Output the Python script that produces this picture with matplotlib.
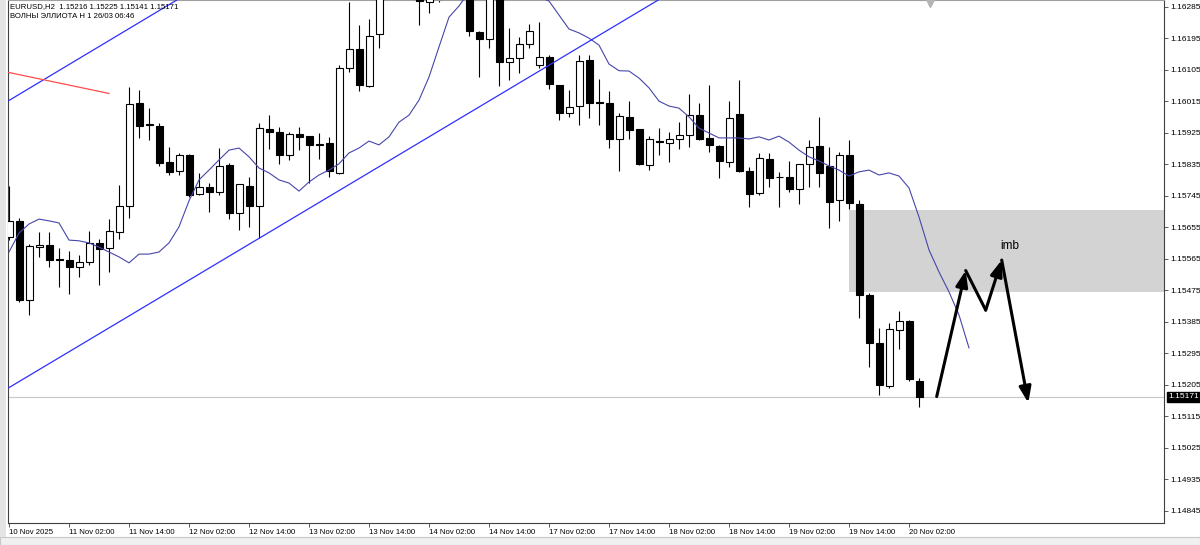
import matplotlib
matplotlib.use("Agg")
import matplotlib.pyplot as plt
from matplotlib.patches import Rectangle
import numpy as np

# EURUSD H2 candles, first bar = 10 Nov 14:00
opens = [1.15628, 1.15674, 1.15448, 1.15600, 1.15604, 1.15564, 1.15561, 1.15541, 1.15556, 1.15610,
         1.15596, 1.15643, 1.15716, 1.16010, 1.15950, 1.15946, 1.15841, 1.15815, 1.15862, 1.15750,
         1.15772, 1.15757, 1.15834, 1.15696, 1.15774, 1.15716, 1.15936, 1.15929, 1.15862, 1.15922,
         1.15916, 1.15894, 1.15896, 1.15812, 1.16112, 1.16164, 1.16060, 1.16207, 1.16320, 1.16370,
         1.16345, 1.16316, 1.16299, 1.16322, 1.16310, 1.16340, 1.16325, 1.16214, 1.16193, 1.16316,
         1.16129, 1.16140, 1.16178, 1.16118, 1.16143, 1.16062, 1.15983, 1.16002, 1.16134, 1.16013,
         1.16012, 1.15909, 1.15972, 1.15936, 1.15834, 1.15901, 1.15897, 1.15907, 1.15919, 1.15976,
         1.15910, 1.15888, 1.15841, 1.15978, 1.15817, 1.15753, 1.15852, 1.15799, 1.15798, 1.15764,
         1.15837, 1.15888, 1.15831, 1.15734, 1.15862, 1.15721, 1.15462, 1.15326, 1.15203, 1.15362,
         1.15388, 1.15216]
highs = [1.15774, 1.15682, 1.15608, 1.15642, 1.15641, 1.15597, 1.15589, 1.15577, 1.15646, 1.15623,
         1.15680, 1.15775, 1.16057, 1.16048, 1.15996, 1.15953, 1.15886, 1.15869, 1.15865, 1.15810,
         1.15783, 1.15881, 1.15838, 1.15779, 1.15800, 1.15954, 1.15976, 1.15941, 1.15927, 1.15943,
         1.15917, 1.15926, 1.15914, 1.16118, 1.16299, 1.16234, 1.16250, 1.16348, 1.16400, 1.16420,
         1.16430, 1.16339, 1.16334, 1.16348, 1.16365, 1.16370, 1.16335, 1.16217, 1.16328, 1.16325,
         1.16224, 1.16200, 1.16236, 1.16243, 1.16148, 1.16062, 1.16048, 1.16148, 1.16148, 1.16079,
         1.16045, 1.15981, 1.16016, 1.15937, 1.15917, 1.15938, 1.15929, 1.15956, 1.16036, 1.16010,
         1.16062, 1.15891, 1.16016, 1.16076, 1.15827, 1.15869, 1.15869, 1.15813, 1.15846, 1.15837,
         1.15905, 1.15970, 1.15886, 1.15872, 1.15905, 1.15734, 1.15467, 1.15367, 1.15381, 1.15416,
         1.15390, 1.15225]
lows = [1.15619, 1.15442, 1.15405, 1.15572, 1.15543, 1.15484, 1.15464, 1.15513, 1.15547, 1.15491,
        1.15529, 1.15621, 1.15681, 1.15910, 1.15904, 1.15831, 1.15805, 1.15805, 1.15743, 1.15748,
        1.15698, 1.15748, 1.15679, 1.15648, 1.15657, 1.15624, 1.15879, 1.15836, 1.15848, 1.15876,
        1.15783, 1.15850, 1.15800, 1.15808, 1.16100, 1.16046, 1.16056, 1.16169, 1.16312, 1.16318,
        1.16320, 1.16234, 1.16269, 1.16299, 1.16308, 1.16309, 1.16202, 1.16086, 1.16167, 1.16060,
        1.16076, 1.16096, 1.16167, 1.16110, 1.16050, 1.15962, 1.15972, 1.15948, 1.15967, 1.15948,
        1.15881, 1.15815, 1.15908, 1.15834, 1.15819, 1.15862, 1.15843, 1.15879, 1.15886, 1.15905,
        1.15872, 1.15796, 1.15829, 1.15814, 1.15713, 1.15748, 1.15772, 1.15713, 1.15757, 1.15721,
        1.15772, 1.15772, 1.15653, 1.15674, 1.15707, 1.15397, 1.15255, 1.15175, 1.15196, 1.15307,
        1.15216, 1.15141]
closes = [1.15674, 1.15448, 1.15602, 1.15605, 1.15562, 1.15562, 1.15541, 1.15557, 1.15610, 1.15594,
          1.15644, 1.15716, 1.16007, 1.15946, 1.15948, 1.15839, 1.15814, 1.15863, 1.15748, 1.15770,
          1.15757, 1.15830, 1.15696, 1.15779, 1.15716, 1.15938, 1.15927, 1.15862, 1.15922, 1.15913,
          1.15891, 1.15892, 1.15815, 1.16112, 1.16165, 1.16062, 1.16203, 1.16319, 1.16370, 1.16345,
          1.16390, 1.16302, 1.16311, 1.16308, 1.16340, 1.16325, 1.16216, 1.16194, 1.16316, 1.16129,
          1.16138, 1.16178, 1.16216, 1.16143, 1.16064, 1.15983, 1.16000, 1.16132, 1.16012, 1.16012,
          1.15909, 1.15974, 1.15934, 1.15836, 1.15907, 1.15900, 1.15907, 1.15919, 1.15976, 1.15907,
          1.15891, 1.15846, 1.15967, 1.15817, 1.15751, 1.15853, 1.15797, 1.15798, 1.15764, 1.15836,
          1.15886, 1.15812, 1.15729, 1.15862, 1.15726, 1.15462, 1.15326, 1.15205, 1.15364, 1.15388,
          1.15222, 1.15171]

# moving average (shifted forward 5 bars)
ma_values = [1.15585, 1.15639, 1.15665, 1.15679, 1.15674, 1.15668, 1.15619, 1.15617, 1.15611, 1.15599,
             1.15585, 1.15571, 1.15554, 1.15579, 1.15579, 1.15585, 1.15611, 1.15657, 1.15731, 1.15791,
             1.15819, 1.15848, 1.15876, 1.15882, 1.15857, 1.15825, 1.15811, 1.15791, 1.15782, 1.15759,
             1.15785, 1.15805, 1.15819, 1.15837, 1.15868, 1.15882, 1.15902, 1.15891, 1.15914, 1.15956,
             1.15976, 1.16019, 1.16085, 1.16171, 1.16256, 1.16288, 1.16328, 1.16356, 1.16374, 1.16379,
             1.16374, 1.16356, 1.16334, 1.16314, 1.16302, 1.16262, 1.16222, 1.16211, 1.16196, 1.16176,
             1.16122, 1.16103, 1.16102, 1.16082, 1.16054, 1.16016, 1.16002, 1.15996, 1.15971, 1.15939,
             1.15925, 1.15911, 1.15911, 1.15911, 1.15908, 1.15914, 1.15905, 1.15916, 1.15899, 1.15876,
             1.15857, 1.15845, 1.15831, 1.15819, 1.15802, 1.15814, 1.15819, 1.15805, 1.15811, 1.15802,
             1.15768, 1.15685, 1.15591, 1.15528, 1.15471, 1.15405, 1.15311]

# drawn objects (bar index, price)
trend_x = [25, 60]
trend_y = [1.15624, 1.16221]
channel_x = [0, 10]
channel_y = [1.16018, 1.16189]
red_x = [-0.2, 10]
red_y = [1.16099, 1.16038]
zone_start = 84
zone_low, zone_high = 1.15471, 1.15705
path_x = [92.77, 95.67, 97.67, 99.27, 101.93]
path_y = [1.15172, 1.15532, 1.15419, 1.15562, 1.15154]
path_heads = [True, False, True, True]

price_ticks = [1.16285, 1.16195, 1.16105, 1.16015, 1.15925, 1.15835, 1.15745, 1.15655, 1.15565,
               1.15475, 1.15385, 1.15295, 1.15205, 1.15115, 1.15025, 1.14935, 1.14845]
time_pos = [0, 6, 12, 18, 24, 30, 36, 42, 48, 54, 60, 66, 72, 78, 84, 90]
time_labels = ["10 Nov 2025", "11 Nov 02:00", "11 Nov 14:00", "12 Nov 02:00", "12 Nov 14:00",
               "13 Nov 02:00", "13 Nov 14:00", "14 Nov 02:00", "14 Nov 14:00", "17 Nov 02:00",
               "17 Nov 14:00", "18 Nov 02:00", "18 Nov 14:00", "19 Nov 02:00", "19 Nov 14:00",
               "20 Nov 02:00"]

plt.rcParams['font.family'] = ['Liberation Sans', 'DejaVu Sans']

o = np.array(opens); h = np.array(highs); l = np.array(lows); c = np.array(closes)
x = np.arange(len(o))

fig = plt.figure(figsize=(12, 5.45), dpi=100)
ax = fig.add_axes([8 / 1200, 22 / 545, 1156 / 1200, 523 / 545])
ax.set_xlim(-0.1, 115.5)
ax.set_ylim(1.148107, 1.16305)

ax.add_patch(Rectangle((zone_start, zone_low), 60, zone_high - zone_low,
                       fc='#d3d3d3', ec='none', zorder=0))
ax.axhline(closes[-1], color='#c8c8c8', lw=0.8, zorder=0.5)

ax.vlines(x, l, h, color='black', lw=0.8, zorder=2)
face = np.where(c > o, 'white', 'black')
ax.bar(x, c - o, bottom=o, width=0.7, color=face, edgecolor='black',
       linewidth=0.8, zorder=3)

ax.plot(np.arange(len(ma_values)), ma_values, color='#4646aa', lw=0.8, zorder=4)

ax.axline((trend_x[0], trend_y[0]), (trend_x[1], trend_y[1]), color='#2f2fff', lw=0.9, zorder=4)
ax.axline((channel_x[0], channel_y[0]), (channel_x[1], channel_y[1]), color='#2f2fff', lw=0.9, zorder=4)
ax.plot(red_x, red_y, color='#ff4c4c', lw=0.9, zorder=4)

for i in range(len(path_x) - 1):
    style = '-|>,head_length=0.8,head_width=0.3' if path_heads[i] else '-'
    ax.annotate('', xy=(path_x[i + 1], path_y[i + 1]), xytext=(path_x[i], path_y[i]),
                arrowprops=dict(arrowstyle=style, color='black', lw=2.2,
                                shrinkA=0, shrinkB=0, mutation_scale=12), zorder=5)
ax.text(100.1, 1.15603, 'imb', fontsize=8.5, ha='center', va='center', zorder=6)

# chart shift marker
ax.plot([92.1], [1.16296], marker='v', ms=6, color='#b4b4b4', clip_on=False, zorder=6)

ax.yaxis.tick_right()
ax.set_yticks(price_ticks)
ax.set_yticklabels([f'{v:.5f}' for v in price_ticks])
ax.set_xticks(time_pos)
ax.set_xticklabels(time_labels, ha='left')
ax.tick_params(axis='both', length=3, width=0.6, pad=1.5, labelsize=6, color='#404040')
ax.tick_params(axis='x', labelsize=5.6)

ax.annotate(f'{closes[-1]:.5f}', xy=(1, closes[-1]), xycoords=('axes fraction', 'data'),
            xytext=(3, 0), textcoords='offset points', va='center', ha='left',
            fontsize=6, color='white',
            bbox=dict(boxstyle='square,pad=0.15', fc='black', ec='black'))

for s in ax.spines.values():
    s.set_color('#404040')
    s.set_linewidth(0.8)
ax.spines['top'].set_color('#a0a0a0')

fig.text(10 / 1200, 1 - 7 / 545, 'EURUSD,H2  1.15216 1.15225 1.15141 1.15171',
         fontsize=5.6, va='center', ha='left')
fig.text(10 / 1200, 1 - 16 / 545, 'ВОЛНЫ ЭЛЛИОТА H 1 26/03 06:46',
         fontsize=5.6, va='center', ha='left')

# terminal frame bits
fig.patches.append(Rectangle((0, 0), 1, 8 / 545, transform=fig.transFigure,
                             fc='#f0f0f0', ec='#c8c8c8', lw=0.8))
fig.patches.append(Rectangle((0, 8 / 545), 6 / 1200, 1, transform=fig.transFigure,
                             fc='#e4e4e4', ec='none'))

fig.savefig('out.png', dpi=100)
plt.close('all')
